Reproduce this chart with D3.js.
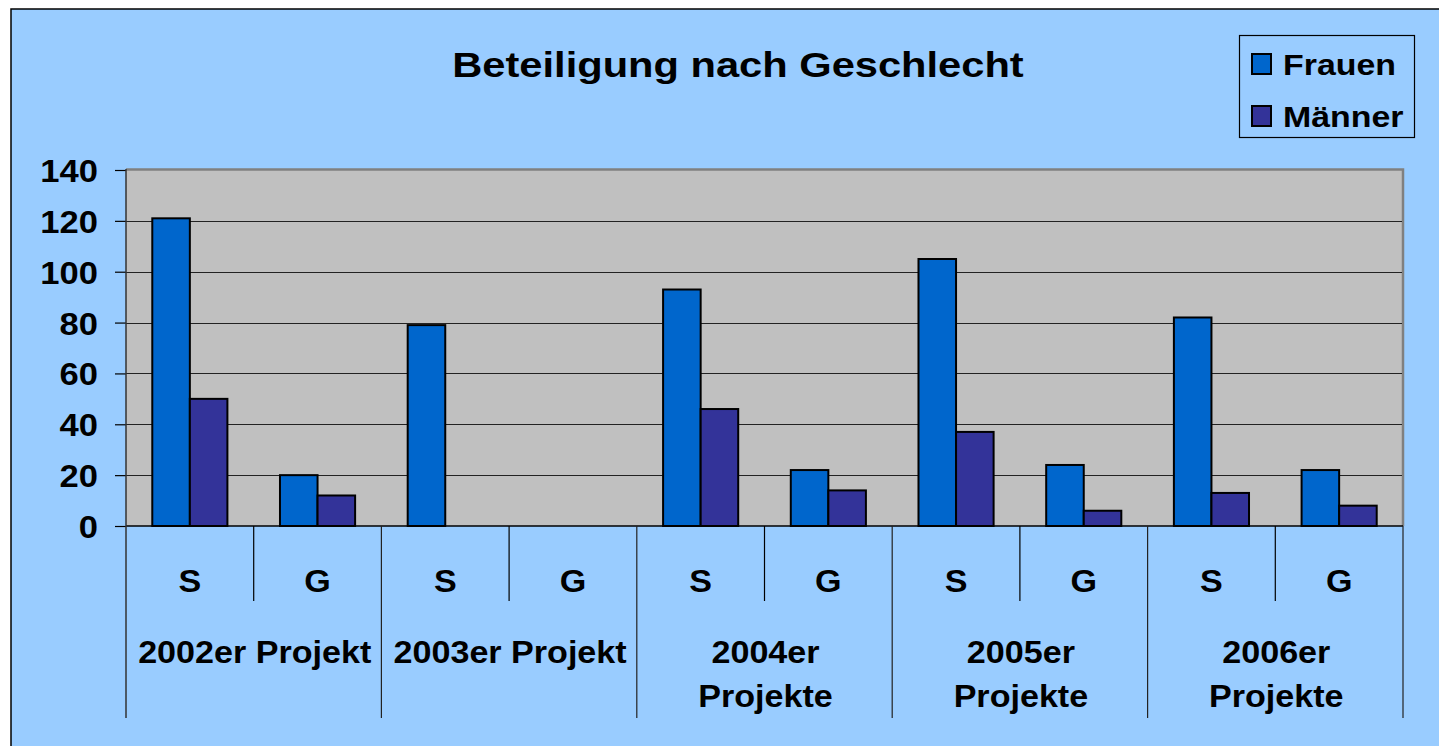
<!DOCTYPE html>
<html>
<head>
<meta charset="utf-8">
<script src="https://cdn.jsdelivr.net/npm/d3@7"></script>
<style>
  html, body { margin: 0; padding: 0; background: #ffffff; overflow: hidden; }
  svg { display: block; font-family: "Liberation Sans", Arial, sans-serif; font-weight: bold; }
</style>
</head>
<body>
<svg id="chart" width="1439" height="746"></svg>
<script>
// ---- data ----
const groupLabels = [["2002er Projekt"], ["2003er Projekt"], ["2004er", "Projekte"], ["2005er", "Projekte"], ["2006er", "Projekte"]];
const subCategories = ["S", "G"];
const seriesNames = ["Frauen", "Männer"];
const frauen = [121, 20, 79, 0, 93, 22, 105, 24, 82, 22];
const maenner = [50, 12, 0, 0, 46, 14, 37, 6, 13, 8];
const yTicks = [0, 20, 40, 60, 80, 100, 120, 140];
const titleText = "Beteiligung nach Geschlecht";

// ---- layout ----
const svg = d3.select("#chart");
const W = 1439, H = 746;
const plot = { left: 126, right: 1403, top: 170, bottom: 526 };
const colors = { Frauen: "#0066cc", "Männer": "#333399" };

// helper: horizontally stretched text anchored at (x,y)
function stretchedText(parent, x, y, sx, size, anchor, str) {
  const g = parent.append("g").attr("transform", `translate(${x},${y}) scale(${sx},1)`);
  return g.append("text").attr("x", 0).attr("y", 0).attr("text-anchor", anchor)
    .attr("font-size", size).attr("fill", "#000").text(str);
}

// chart background with frame
svg.append("rect").attr("x", 11).attr("y", 9).attr("width", W + 20).attr("height", H + 20)
  .attr("fill", "#99ccff").attr("stroke", "#000").attr("stroke-width", 1.5);

// title
stretchedText(svg, 738, 77, 1.19, 35, "middle", titleText);

// categories
const cats = [];
groupLabels.forEach((g, gi) => subCategories.forEach((s, si) => cats.push({ key: gi + "-" + s, group: gi, sub: s })));
const rows = cats.map((c, i) => ({ ...c, Frauen: frauen[i], "Männer": maenner[i] }));

const x0 = d3.scaleBand().domain(cats.map(c => c.key)).range([plot.left, plot.right]).padding(0);
const xGroup = d3.scaleBand().domain(groupLabels.map((g, i) => i)).range([plot.left, plot.right]).padding(0);
const x1 = d3.scaleBand().domain(seriesNames).range([0, x0.bandwidth()]).paddingInner(0).paddingOuter(0.7);
const y = d3.scaleLinear().domain([0, 140]).range([plot.bottom, plot.top]);

// plot area
svg.append("rect").attr("x", plot.left).attr("y", plot.top).attr("width", plot.right - plot.left)
  .attr("height", plot.bottom - plot.top).attr("fill", "#c0c0c0");
// top & right grey border
svg.append("path").attr("d", `M${plot.left},${plot.top - 0.5}H${plot.right}V${plot.bottom}`)
  .attr("fill", "none").attr("stroke", "#808080").attr("stroke-width", 2.5);

// gridlines
svg.append("g").selectAll("line").data(yTicks.filter(t => t > 0 && t < 140)).join("line")
  .attr("x1", plot.left).attr("x2", plot.right - 1)
  .attr("y1", d => Math.round(y(d)) + 0.5).attr("y2", d => Math.round(y(d)) + 0.5)
  .attr("stroke", "#222").attr("stroke-width", 1);

// y axis
const yAxis = d3.axisLeft(y).tickValues(yTicks).tickSize(11).tickPadding(17).tickFormat(d3.format("d"));
const gy = svg.append("g").attr("transform", `translate(${plot.left},0)`).call(yAxis);
gy.select(".domain").remove();
gy.selectAll(".tick line").attr("stroke", "#000").attr("stroke-width", 1.2);
const ySx = 1.08;
gy.selectAll(".tick text").attr("font-size", 32).attr("font-weight", "bold")
  .attr("font-family", "Liberation Sans, Arial, sans-serif").attr("fill", "#000").attr("dy", "0.36em")
  .attr("x", -28 / ySx).attr("transform", `scale(${ySx},1)`);

// bars
const barG = svg.append("g");
rows.forEach(r => {
  seriesNames.forEach(s => {
    if (r[s] <= 0) return;
    barG.append("rect")
      .attr("x", x0(r.key) + x1(s))
      .attr("y", y(r[s]))
      .attr("width", x1.bandwidth())
      .attr("height", y(0) - y(r[s]))
      .attr("fill", colors[s]).attr("stroke", "#000").attr("stroke-width", 2);
  });
});

// axis lines
svg.append("line").attr("x1", plot.left).attr("x2", plot.right).attr("y1", plot.bottom).attr("y2", plot.bottom)
  .attr("stroke", "#000").attr("stroke-width", 1.5);
svg.append("line").attr("x1", plot.left).attr("x2", plot.left).attr("y1", plot.top - 1).attr("y2", 718)
  .attr("stroke", "#333").attr("stroke-width", 1.5);

// sub-category separators
svg.append("g").selectAll("line").data(cats.filter(c => c.sub === "G")).join("line")
  .attr("x1", d => x0(d.key)).attr("x2", d => x0(d.key))
  .attr("y1", plot.bottom).attr("y2", 601)
  .attr("stroke", "#000").attr("stroke-width", 1.2);
// group separators
svg.append("g").selectAll("line").data(groupLabels.map((g, i) => i).slice(1).concat(["end"])).join("line")
  .attr("x1", d => d === "end" ? plot.right : xGroup(d)).attr("x2", d => d === "end" ? plot.right : xGroup(d))
  .attr("y1", plot.bottom).attr("y2", 718)
  .attr("stroke", "#222").attr("stroke-width", 1.2);

// sub-category labels
cats.forEach(d => stretchedText(svg, x0(d.key) + x0.bandwidth() / 2, 592, 1.1, 31, "middle", d.sub));

// group labels
groupLabels.forEach((lines, gi) => {
  lines.forEach((ln, li) => {
    stretchedText(svg, xGroup(gi) + xGroup.bandwidth() / 2 + 1, 663 + li * 44, 1.1, 31, "middle", ln);
  });
});

// legend
const lg = svg.append("g");
lg.append("rect").attr("x", 1239.5).attr("y", 35.5).attr("width", 175).attr("height", 102)
  .attr("fill", "#99ccff").attr("stroke", "#000").attr("stroke-width", 1.2);
seriesNames.forEach((s, i) => {
  lg.append("rect").attr("x", 1252).attr("y", 54 + i * 52).attr("width", 19).attr("height", 20)
    .attr("fill", colors[s]).attr("stroke", "#000").attr("stroke-width", 2);
  stretchedText(lg, 1283, 75 + i * 52, 1.13, 30, "start", s);
});
</script>
</body>
</html>
